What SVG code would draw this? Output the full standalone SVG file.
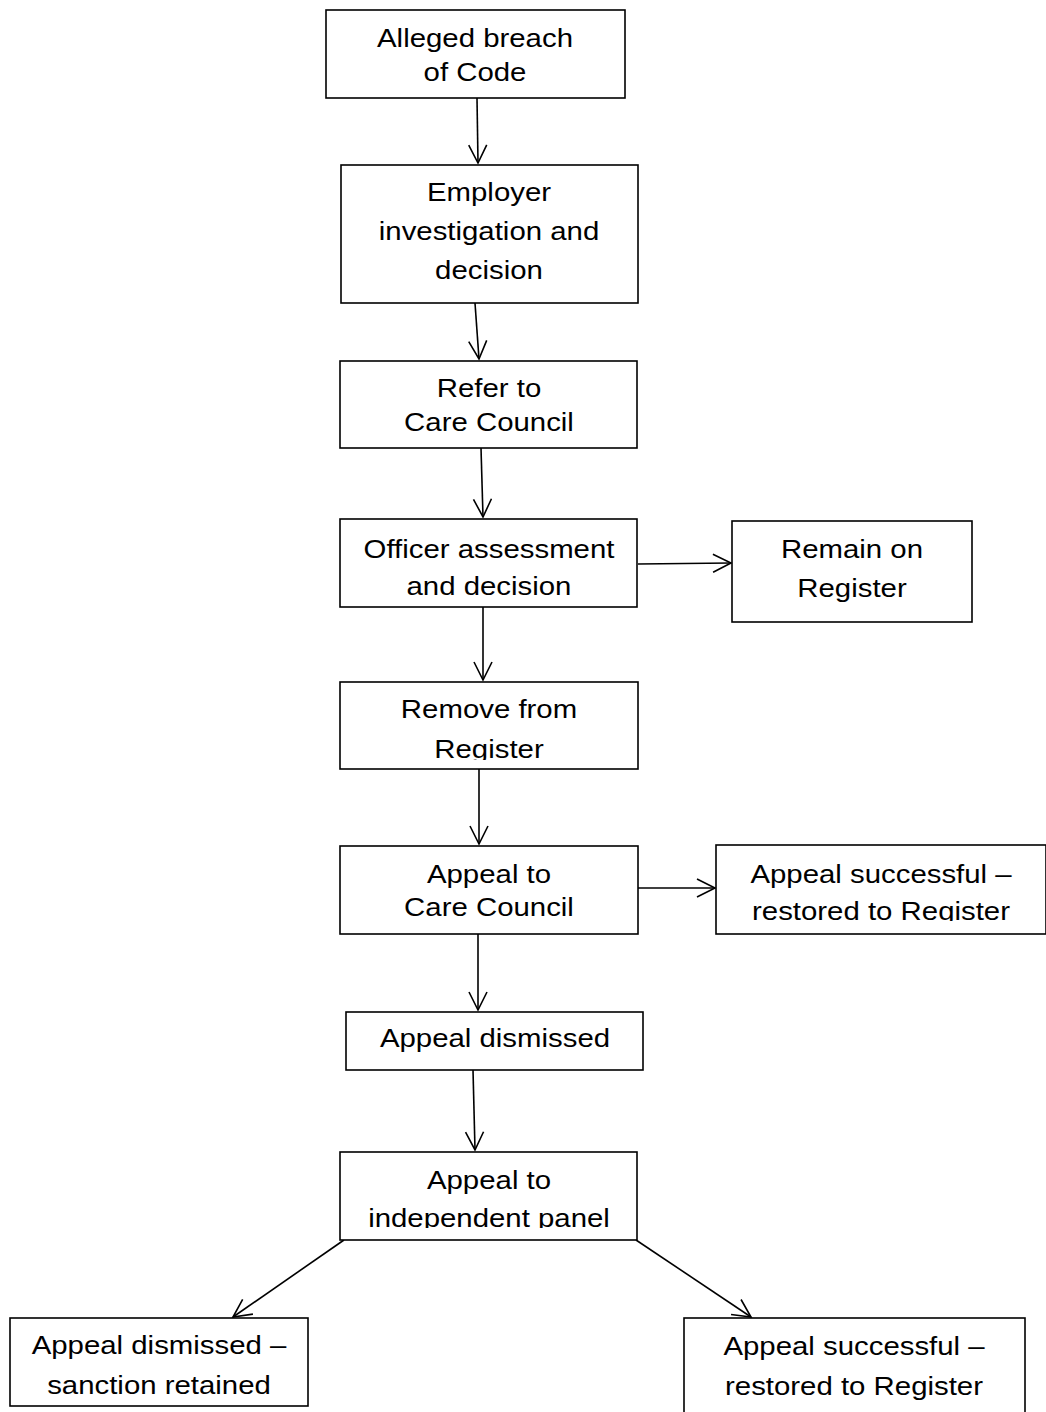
<svg xmlns="http://www.w3.org/2000/svg" width="1046" height="1412" viewBox="0 0 1046 1412">
<style>
.box{fill:#fff;stroke:#000;stroke-width:1.6}
.t{font-family:"Liberation Sans",Arial,sans-serif;font-size:26px;fill:#000;text-anchor:middle}
.c{fill:none;stroke:#000;stroke-width:1.6}
</style>
<defs>
<marker id="ah" markerWidth="22" markerHeight="22" refX="19" refY="10" orient="auto" markerUnits="userSpaceOnUse">
<path d="M1,1 L19,10 L1,19" fill="none" stroke="#000" stroke-width="1.6"/>
</marker>
<clipPath id="cl5"><rect x="340" y="682" width="298" height="78"/></clipPath>
<clipPath id="clr"><rect x="716" y="845" width="330" height="76"/></clipPath>
<clipPath id="cl8"><rect x="340" y="1152" width="297" height="76"/></clipPath>
</defs>
<g id="connectors">
<line class="c" x1="477" y1="98" x2="478" y2="163" marker-end="url(#ah)"/>
<line class="c" x1="475" y1="303" x2="479" y2="359" marker-end="url(#ah)"/>
<line class="c" x1="481" y1="448" x2="483" y2="517" marker-end="url(#ah)"/>
<line class="c" x1="483" y1="607" x2="483" y2="680" marker-end="url(#ah)"/>
<line class="c" x1="479" y1="769" x2="479" y2="844" marker-end="url(#ah)"/>
<line class="c" x1="478" y1="934" x2="478" y2="1010" marker-end="url(#ah)"/>
<line class="c" x1="473" y1="1070" x2="475" y2="1150" marker-end="url(#ah)"/>
<line class="c" x1="638" y1="564" x2="731" y2="563" marker-end="url(#ah)"/>
<line class="c" x1="638" y1="888" x2="715" y2="888" marker-end="url(#ah)"/>
<line class="c" x1="344" y1="1240" x2="233" y2="1317" marker-end="url(#ah)"/>
<line class="c" x1="636" y1="1240" x2="751" y2="1317" marker-end="url(#ah)"/>
</g>
<g id="n1"><rect class="box" x="326" y="10" width="299" height="88"/>
<g transform="translate(475 0) scale(1.13 1)"><text class="t" x="0" y="47">Alleged breach</text><text class="t" x="0" y="81">of Code</text></g></g>
<g id="n2"><rect class="box" x="341" y="165" width="297" height="138"/>
<g transform="translate(489 0) scale(1.13 1)"><text class="t" x="0" y="201">Employer</text><text class="t" x="0" y="240">investigation and</text><text class="t" x="0" y="279">decision</text></g></g>
<g id="n3"><rect class="box" x="340" y="361" width="297" height="87"/>
<g transform="translate(489 0) scale(1.13 1)"><text class="t" x="0" y="397">Refer to</text><text class="t" x="0" y="431">Care Council</text></g></g>
<g id="n4"><rect class="box" x="340" y="519" width="297" height="88"/>
<g transform="translate(489 0) scale(1.13 1)"><text class="t" x="0" y="558">Officer assessment</text><text class="t" x="0" y="595">and decision</text></g></g>
<g id="n4r"><rect class="box" x="732" y="521" width="240" height="101"/>
<g transform="translate(852 0) scale(1.13 1)"><text class="t" x="0" y="558">Remain on</text><text class="t" x="0" y="597">Register</text></g></g>
<g id="n5"><rect class="box" x="340" y="682" width="298" height="87"/>
<g clip-path="url(#cl5)"><g transform="translate(489 0) scale(1.13 1)"><text class="t" x="0" y="718">Remove from</text><text class="t" x="0" y="758">Register</text></g></g></g>
<g id="n6"><rect class="box" x="340" y="846" width="298" height="88"/>
<g transform="translate(489 0) scale(1.13 1)"><text class="t" x="0" y="883">Appeal to</text><text class="t" x="0" y="916">Care Council</text></g></g>
<g id="n6r"><rect class="box" x="716" y="845" width="330" height="89"/>
<g clip-path="url(#clr)"><g transform="translate(881 0) scale(1.13 1)"><text class="t" x="0" y="883">Appeal successful –</text><text class="t" x="0" y="920">restored to Register</text></g></g></g>
<g id="n7"><rect class="box" x="346" y="1012" width="297" height="58"/>
<g transform="translate(495 0) scale(1.13 1)"><text class="t" x="0" y="1047">Appeal dismissed</text></g></g>
<g id="n8"><rect class="box" x="340" y="1152" width="297" height="88"/>
<g clip-path="url(#cl8)"><g transform="translate(489 0) scale(1.13 1)"><text class="t" x="0" y="1189">Appeal to</text><text class="t" x="0" y="1227">independent panel</text></g></g></g>
<g id="n9"><rect class="box" x="10" y="1318" width="298" height="88"/>
<g transform="translate(159 0) scale(1.13 1)"><text class="t" x="0" y="1354">Appeal dismissed –</text><text class="t" x="0" y="1394">sanction retained</text></g></g>
<g id="n10"><rect class="box" x="684" y="1318" width="341" height="100"/>
<g transform="translate(854 0) scale(1.13 1)"><text class="t" x="0" y="1355">Appeal successful –</text><text class="t" x="0" y="1395">restored to Register</text></g></g>
</svg>
